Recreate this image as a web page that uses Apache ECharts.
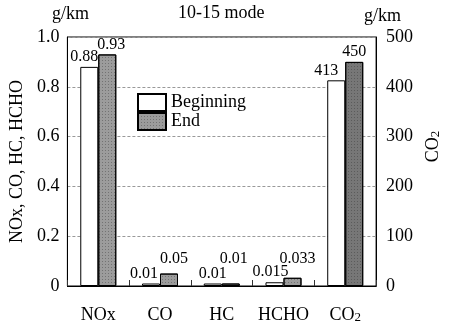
<!DOCTYPE html>
<html>
<head>
<meta charset="utf-8">
<script src="https://cdn.jsdelivr.net/npm/echarts@6/dist/echarts.min.js"></script>
<style>
html,body{margin:0;padding:0;background:#fff;}
#chart{width:450px;height:328px;}
</style>
</head>
<body>
<div id="chart"></div>
<script>
// ---- data ----
const categories = ['NOx', 'CO', 'HC', 'HCHO', 'CO2'];
const beginning = [0.88, 0.01, 0.01, 0.015, null];     // left axis (g/km)
const end = [0.93, 0.05, 0.01, 0.033, null];           // left axis (g/km)
const co2Beginning = [null, null, null, null, 413];    // right axis (g/km)
const co2End = [null, null, null, null, 450];          // right axis (g/km)
const leftAxisRange = [0, 1.0, 0.2];
const rightAxisRange = [0, 500, 100];
const seriesNames = ['Beginning', 'End'];

// ---- styles ----
const FONT = '"Liberation Serif", "DejaVu Serif", serif';
const beginOffsets = [[-5, 0], [-7, 0], [0, 0], [-4, 0], [-10, 0]];
const endOffsets = [[4, 0], [5, -5], [3, -15], [5, -9], [0, 0]];
const endColor = '#9c9c9c';
const endDecal = {
  symbol: 'rect', symbolSize: 1,
  color: 'rgba(40,40,40,0.35)',
  dashArrayX: [1, 2], dashArrayY: [1, 2], rotation: 0
};

function buildData(vals, offsets) {
  return vals.map((v, i) => {
    if (v === null) return '-';
    return { value: v, label: { offset: offsets[i] } };
  });
}

const labelBase = {
  show: true, position: 'top', distance: 2,
  fontFamily: FONT, fontSize: 16, color: '#000'
};

const beginStyle = { color: '#fff', borderColor: '#000', borderWidth: 1 };
const endStyle = { color: endColor, borderColor: '#000', borderWidth: 1, decal: endDecal };

const chart = echarts.init(document.getElementById('chart'), null, { renderer: 'canvas' });
chart.setOption({
  animation: false,
  backgroundColor: '#fff',
  textStyle: { fontFamily: FONT },
  grid: { left: 65, right: 68, top: 37, bottom: 42, show: true, borderColor: '#000', borderWidth: 1 },
  legend: {
    data: seriesNames,
    orient: 'vertical',
    left: 137, top: 93, padding: 0,
    itemWidth: 28, itemHeight: 17, itemGap: 0,
    icon: 'rect',
    textStyle: { fontFamily: FONT, fontSize: 18, color: '#000', lineHeight: 17, padding: [0, 0, 0, 0] }
  },
  graphic: [
    { type: 'text', left: 52, top: 5, style: { text: 'g/km', font: '18px ' + FONT, fill: '#000' } },
    { type: 'text', left: 364, top: 7, style: { text: 'g/km', font: '18px ' + FONT, fill: '#000' } },
    { type: 'text', left: 178, top: 4, style: { text: '10-15 mode', font: '18px ' + FONT, fill: '#000' } }
  ],
  xAxis: {
    type: 'category',
    data: categories,
    axisLine: { lineStyle: { color: '#000', width: 1 } },
    axisTick: { show: true, inside: true, length: 6, interval: 0, lineStyle: { color: '#333' } },
    axisLabel: {
      margin: 20, interval: 0,
      color: '#000', fontFamily: FONT, fontSize: 18,
      formatter: v => v === 'CO2' ? 'CO{sub|2}' : v,
      rich: { sub: { fontFamily: FONT, fontSize: 13, verticalAlign: 'bottom', color: '#000', padding: [4, 0, 0, 0] } }
    }
  },
  yAxis: [
    {
      type: 'value',
      min: leftAxisRange[0], max: leftAxisRange[1], interval: leftAxisRange[2],
      name: 'NOx, CO, HC, HCHO',
      nameLocation: 'middle', nameRotate: 90, nameGap: 40,
      nameTextStyle: { fontFamily: FONT, fontSize: 18, color: '#000' },
      axisLine: { show: true, lineStyle: { color: '#000' } },
      axisTick: { show: false },
      axisLabel: {
        margin: 8, color: '#000', fontFamily: FONT, fontSize: 18,
        formatter: v => v === 0 ? '0' : v.toFixed(1)
      },
      splitLine: { show: true, lineStyle: { color: '#999', type: [3, 2], width: 1 } }
    },
    {
      type: 'value',
      min: rightAxisRange[0], max: rightAxisRange[1], interval: rightAxisRange[2],
      position: 'right',
      name: 'CO{sub|2}',
      nameLocation: 'middle', nameRotate: 90, nameGap: 42,
      nameTextStyle: {
        fontFamily: FONT, fontSize: 18, color: '#000', padding: [0, 0, 0, 30],
        rich: { sub: { fontFamily: FONT, fontSize: 13, verticalAlign: 'bottom', padding: [4, 0, 0, 0] } }
      },
      axisLine: { show: true, lineStyle: { color: '#000' } },
      axisTick: { show: false },
      axisLabel: { margin: 10, color: '#000', fontFamily: FONT, fontSize: 18 },
      splitLine: { show: false }
    }
  ],
  series: [
    {
      name: seriesNames[0], type: 'bar', yAxisIndex: 0, stack: 'b',
      barWidth: 18, barGap: '0%',
      data: buildData(beginning, beginOffsets),
      itemStyle: beginStyle, label: labelBase
    },
    {
      name: seriesNames[1], type: 'bar', yAxisIndex: 0, stack: 'e',
      barWidth: 18, barGap: '0%',
      data: buildData(end, endOffsets),
      itemStyle: endStyle, label: labelBase
    },
    {
      name: seriesNames[0], type: 'bar', yAxisIndex: 1, stack: 'b',
      barWidth: 18, barGap: '0%',
      data: buildData(co2Beginning, beginOffsets),
      itemStyle: beginStyle, label: labelBase
    },
    {
      name: seriesNames[1], type: 'bar', yAxisIndex: 1, stack: 'e',
      barWidth: 18, barGap: '0%',
      data: buildData(co2End, endOffsets),
      itemStyle: Object.assign({}, endStyle, { color: '#777' }), label: labelBase
    }
  ]
});
</script>
</body>
</html>
